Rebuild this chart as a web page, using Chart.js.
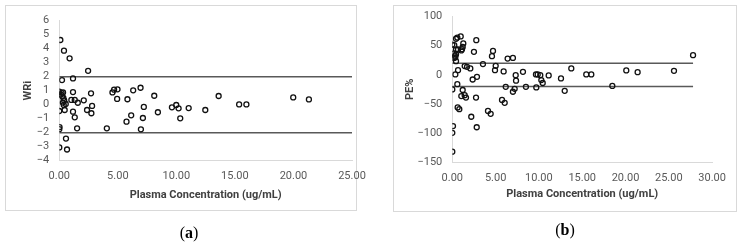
<!DOCTYPE html>
<html>
<head>
<meta charset="utf-8">
<script src="https://cdn.jsdelivr.net/npm/chart.js@4.4.0/dist/chart.umd.min.js"></script>
<style>
  html, body { margin:0; padding:0; background:#fff; }
  body { width:744px; height:243px; position:relative; overflow:hidden; }
  .panel { position:absolute; border:1px solid #d9d9d9; box-sizing:border-box; }
  canvas { position:absolute; top:0; }
  .cap { position:absolute; font-family:"Liberation Serif", serif; font-size:16px; color:#000; transform:translate(-50%,-50%); white-space:nowrap; }
</style>
</head>
<body>
<div class="panel" style="left:5px; top:5px; width:352px; height:206px;"></div>
<div class="panel" style="left:393px; top:5px; width:344px; height:207px;"></div>
<canvas id="ca" width="380" height="243" style="left:0px;"></canvas>
<canvas id="cb" width="364" height="243" style="left:380px;"></canvas>
<div class="cap" style="left:189px; top:233px;">(<b>a</b>)</div>
<div class="cap" style="left:565px; top:230px;">(<b>b</b>)</div>
<script>
// ---- Panel (a): WRi vs plasma concentration ----
const concA = [0.09,0.40,0.88,2.46,0.23,1.17,0.00,0.32,1.17,2.71,1.03,1.32,1.58,2.09,2.80,2.37,2.74,0.00,0.46,1.17,1.32,1.52,0.02,0.00,0.57,0.00,0.66,
  0.15,0.25,0.35,0.42,0.30,0.38,0.55,0.20,
  4.54,4.68,4.97,4.94,5.82,6.31,6.94,8.11,7.22,8.42,6.14,5.74,7.14,4.06,6.97,9.62,9.99,10.19,10.33,11.05,12.47,13.61,15.36,15.98,19.98,21.32];
const wriA = [4.62,3.86,3.31,2.42,1.76,1.88,0.93,0.88,0.90,0.81,0.34,0.34,0.14,0.31,-0.09,-0.38,-0.61,-0.45,-0.38,-0.50,-0.90,-1.69,-1.60,-1.75,-2.42,-3.05,-3.20,
  0.72,0.60,0.48,0.30,0.15,-0.02,0.05,0.85,
  0.88,1.07,1.10,0.41,0.39,1.03,1.21,0.64,-0.16,-0.54,-0.76,-1.21,-0.95,-1.69,-1.76,-0.19,-0.02,-0.26,-0.97,-0.24,-0.38,0.62,0.02,0.02,0.52,0.38];
const limitA = 2;
const limitAxA = [0, 25];
const xTicksA = [0,5,10,15,20,25];
const yTicksA = [6,5,4,3,2,1,0,-1,-2,-3,-4];

// ---- Panel (b): PE% vs plasma concentration ----
const concB = [0.00,0.23,0.43,0.58,0.97,0.20,0.43,0.43,0.35,0.20,0.43,0.66,1.04,1.20,1.27,1.12,0.30,
  2.77,2.50,4.58,4.70,6.39,7.00,3.54,1.43,1.70,2.08,5.01,4.93,0.66,0.35,2.35,2.85,5.93,7.32,7.36,8.16,
  0.58,0.00,1.20,1.04,1.43,1.58,2.74,6.17,7.20,7.00,8.50,0.62,0.81,2.19,4.12,4.43,5.74,6.05,2.82,0.08,0.00,0.00,
  9.66,9.86,10.16,10.28,10.44,9.70,11.13,12.55,12.98,13.74,15.47,16.05,18.48,20.09,21.40,25.60,27.80];
const peB = [52,51,62,64,66,37,35,43.5,30,29,23.5,43.5,42,48,54,44,33,
  59.5,39.5,32,41,28,29,18.4,15,13.7,11,15.4,8,8,0.7,-8,-3.4,5.8,-0.5,-10,5.2,
  -16,-25,-26,-36.5,-35,-39,-39,-20.6,-24,-29,-20.6,-56,-59,-72,-62,-67,-43,-48,-90,-88,-99.5,-132,
  0.7,0.7,-0.5,-9,-14,-21.6,-1,-6.2,-27.4,11,0.7,0.7,-19,7.5,4.6,6.9,33.8];
const limitB = 20;
const limitAxB = [0, 27.8];
const xTicksB = [0,5,10,15,20,25,30];
const yTicksB = [100,50,0,-50,-100,-150];

const tickFont = { family: "Roboto, 'Liberation Sans', sans-serif", size: 11 };
const titleFont = { family: "Roboto, 'Liberation Sans', sans-serif", size: 11, weight: 'bold' };
const tickColor = '#595959';
const axisColor = '#d9d9d9';
const lineColor = '#595959';
const minus = s => String(s).replace('-', '\u2212');

function makeChart(id, xs, ys, limit, limAx, xt, yt, yTitle, geo) {
  const pts = xs.map((x, i) => ({ x: x, y: ys[i] }));
  new Chart(document.getElementById(id), {
    type: 'scatter',
    data: {
      datasets: [
        { data: pts, pointStyle: 'circle', pointRadius: 2.5, pointBorderWidth: 1.3,
          borderColor: '#111', backgroundColor: 'rgba(255,255,255,0)', order: 1 },
        { data: limAx.map(x => ({ x: x, y: limit })), showLine: true, pointRadius: 0,
          borderColor: lineColor, borderWidth: 1.6, order: 2 },
        { data: limAx.map(x => ({ x: x, y: -limit })), showLine: true, pointRadius: 0,
          borderColor: lineColor, borderWidth: 1.6, order: 2 }
      ]
    },
    options: {
      responsive: false, animation: false, devicePixelRatio: 1,
      layout: { padding: { left: 0, top: geo.top, right: geo.right, bottom: 0 } },
      plugins: { legend: { display: false }, tooltip: { enabled: false } },
      scales: {
        x: {
          type: 'linear', min: xt[0], max: xt[xt.length - 1],
          grid: { display: false, drawTicks: false },
          border: { display: true, color: axisColor, width: 1 },
          afterBuildTicks: s => { s.ticks = xt.map(v => ({ value: v })); },
          afterFit: s => { s.height = geo.xh; },
          ticks: { font: tickFont, color: tickColor, padding: 9, maxRotation: 0, autoSkip: false,
                   callback: v => Number(v).toFixed(2) },
          title: { display: true, text: 'Plasma Concentration (ug/mL)', font: titleFont, color: '#404040',
                   padding: { top: 0, bottom: geo.xtp } }
        },
        y: {
          type: 'linear', min: yt[yt.length - 1], max: yt[0],
          grid: { display: false, drawTicks: false },
          border: { display: true, color: axisColor, width: 1 },
          afterBuildTicks: s => { s.ticks = yt.slice().reverse().map(v => ({ value: v })); },
          afterFit: s => { s.width = geo.yw; },
          ticks: { font: tickFont, color: tickColor, padding: 10, autoSkip: false,
                   callback: v => minus(v) },
          title: { display: true, text: yTitle, font: titleFont, color: '#404040',
                   padding: { top: geo.ytp, bottom: 0 } }
        }
      }
    }
  });
}

makeChart('ca', concA, wriA, limitA, limitAxA, xTicksA, yTicksA, 'WRi',
  { top: 20.7, right: 28, xh: 82.3, yw: 59.3, xtp: 41.4, ytp: 21.7 });
makeChart('cb', concB, peB, limitB, limitAxB, xTicksB, yTicksB, 'PE%',
  { top: 16.4, right: 31.9, xh: 80.8, yw: 72.3, xtp: 42.1, ytp: 23.7 });
</script>
</body>
</html>
